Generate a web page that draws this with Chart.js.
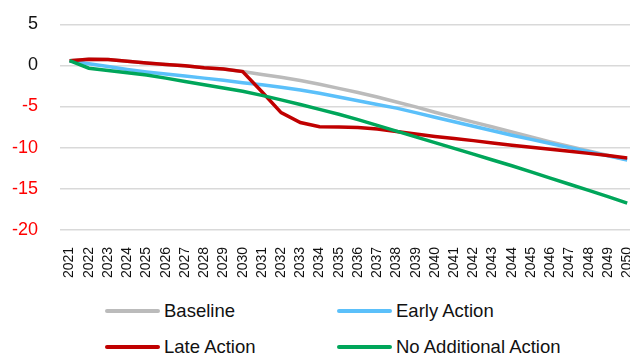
<!DOCTYPE html>
<html>
<head>
<meta charset="utf-8">
<script src="https://cdn.jsdelivr.net/npm/chart.js@4/dist/chart.umd.min.js"></script>
<style>
  html, body { margin: 0; padding: 0; background: #fff; overflow: hidden; }
  body { width: 630px; height: 356px; position: relative; font-family: "Liberation Sans", Arial, sans-serif; }
  #wrap { position: absolute; left: 0; top: 0; width: 653px; height: 287px; }
  .legend-item { position: absolute; display: flex; align-items: center; font-size: 18.5px; color: #111; white-space: nowrap; }
  .legend-item span.swatch { display: inline-block; width: 55px; height: 4px; border-radius: 2px; margin-right: 4px; }
</style>
</head>
<body>
<div id="wrap"><canvas id="chart"></canvas></div>
<div id="legend"></div>
<script>
// ── Data ────────────────────────────────────────────────
const years = [];
for (let y = 2021; y <= 2050; y++) years.push(String(y));

const baseline = [
  0.57, 0.75, 0.7, 0.5, 0.3, 0.12, -0.05, -0.28, -0.45, -0.75,
  -1.1, -1.45, -1.85, -2.3, -2.8, -3.3, -3.85, -4.45, -5.05, -5.7,
  -6.3, -6.9, -7.5, -8.1, -8.7, -9.3, -9.85, -10.4, -10.95, -11.45,
];
const earlyAction = [
  0.57, 0.2, -0.15, -0.5, -0.8, -1.05, -1.3, -1.55, -1.8, -2.1,
  -2.35, -2.65, -3.0, -3.4, -3.85, -4.3, -4.75, -5.2, -5.75, -6.3,
  -6.85, -7.4, -7.95, -8.5, -9.0, -9.5, -10.0, -10.5, -11.0, -11.5,
];
const lateAction = [
  0.57, 0.75, 0.7, 0.5, 0.3, 0.12, -0.05, -0.28, -0.45, -0.75,
  -3.2, -5.75, -6.95, -7.45, -7.5, -7.55, -7.75, -8.05, -8.35, -8.65,
  -8.9, -9.15, -9.45, -9.7, -9.95, -10.2, -10.45, -10.7, -10.95, -11.25,
];
const noAdditional = [
  0.57, -0.35, -0.62, -0.9, -1.17, -1.55, -1.95, -2.35, -2.75, -3.15,
  -3.65, -4.2, -4.75, -5.35, -5.95, -6.6, -7.3, -8.0, -8.7, -9.4,
  -10.1, -10.8, -11.5, -12.2, -12.95, -13.7, -14.45, -15.2, -15.95, -16.75,
];

const seriesNames = ['Baseline', 'Early Action', 'Late Action', 'No Additional Action'];
const seriesColors = ['#BBBBBB', '#5BC0FA', '#C00000', '#00A65A'];
const seriesData = [baseline, earlyAction, lateAction, noAdditional];

// ── Chart ───────────────────────────────────────────────
const FONT = '"Liberation Sans", Arial, sans-serif';

const datasets = seriesData.map((data, i) => ({
  label: seriesNames[i],
  data,
  borderColor: seriesColors[i],
  backgroundColor: seriesColors[i],
  borderWidth: 3.5,
  pointRadius: 0,
  tension: 0,
  fill: false,
  order: seriesData.length - i, // later series on top, like Excel
}));

new Chart(document.getElementById('chart'), {
  type: 'line',
  data: { labels: years, datasets },
  options: {
    responsive: true,
    maintainAspectRatio: false,
    animation: false,
    layout: { padding: 0 },
    plugins: { legend: { display: false }, tooltip: { enabled: false } },
    scales: {
      x: {
        offset: true,
        grid: { display: false },
        border: { display: false },
        ticks: {
          autoSkip: false,
          maxRotation: 90,
          minRotation: 90,
          padding: 9,
          color: '#111',
          font: { family: FONT, size: 14 },
        },
      },
      y: {
        min: -20,
        max: 5,
        afterFit: (scale) => { scale.width = 60; },
        ticks: {
          stepSize: 5,
          padding: 22,
          color: (ctx) => (ctx.tick.value < 0 ? '#FF0000' : '#111'),
          // small line height so the tick padding mostly sets the top inset
          font: { family: FONT, size: 18, lineHeight: 0.25 },
        },
        grid: { color: '#D9D9D9', lineWidth: 1.5, drawTicks: false },
        border: { display: false },
      },
    },
  },
});

// ── Legend (two columns, two rows) ─────────────────────
const legendPos = [[105, 311], [337, 311], [105, 347], [337, 347]];
const legendEl = document.getElementById('legend');
seriesNames.forEach((name, i) => {
  const item = document.createElement('div');
  item.className = 'legend-item';
  item.style.left = legendPos[i][0] + 'px';
  item.style.top = (legendPos[i][1] - 11) + 'px';
  item.style.height = '22px';
  item.innerHTML = `<span class="swatch" style="background:${seriesColors[i]}"></span>${name}`;
  legendEl.appendChild(item);
});
</script>
</body>
</html>
